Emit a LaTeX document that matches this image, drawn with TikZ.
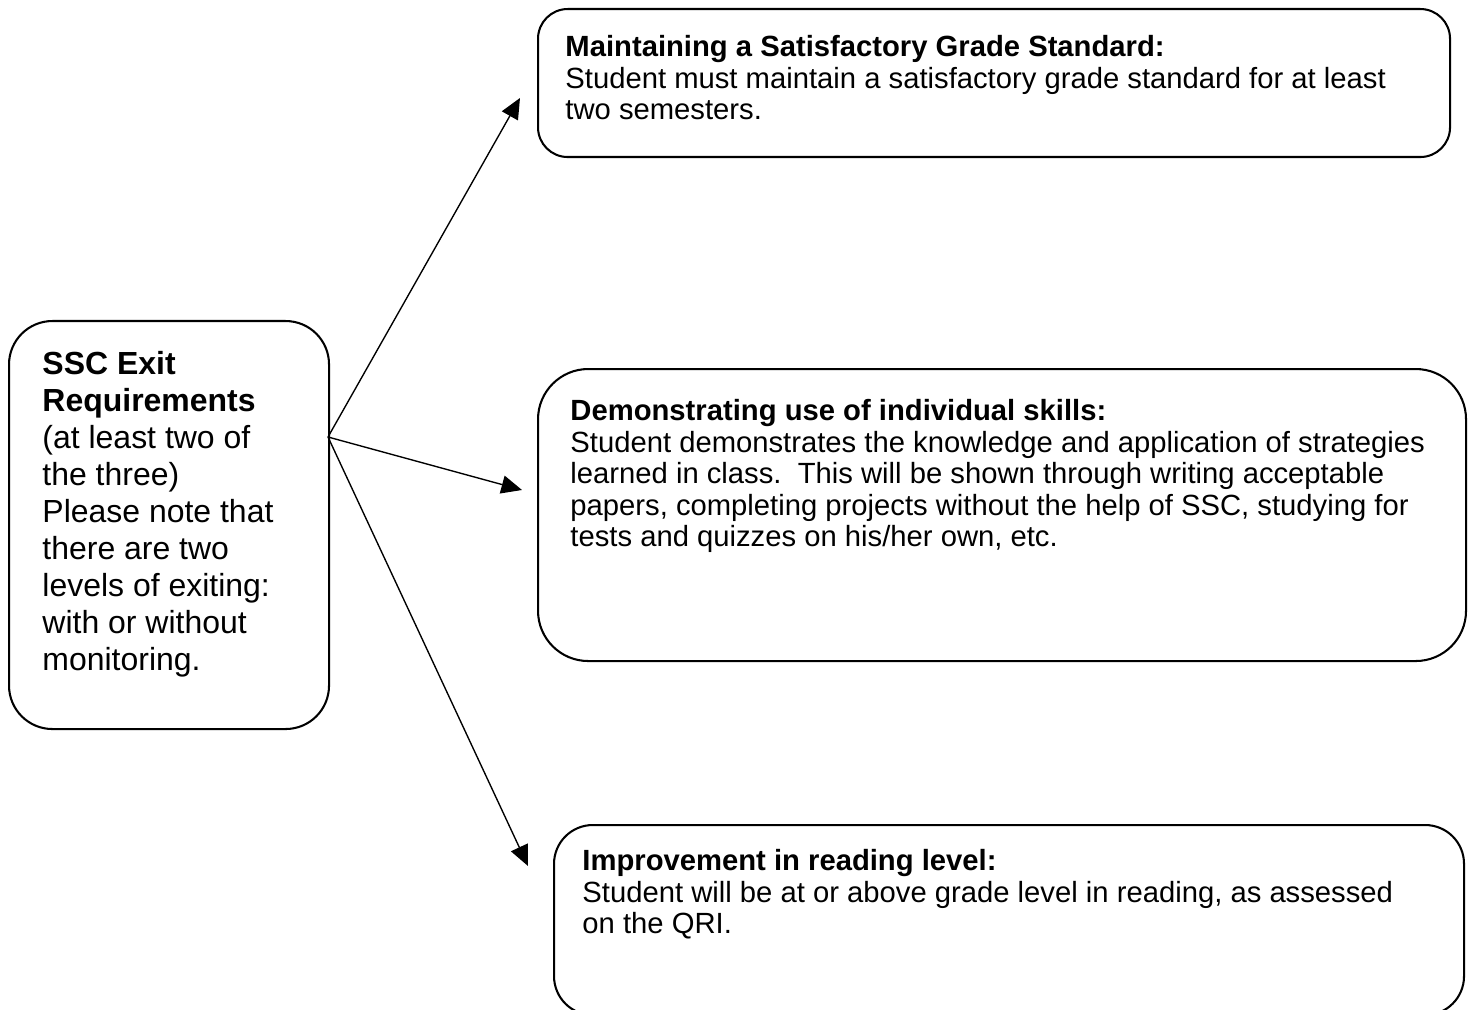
\documentclass[tikz,border=0pt]{standalone}
\usepackage{fontspec}
\setmainfont{Liberation Sans}
\usetikzlibrary{arrows.meta,positioning}

\tikzset{
  frame/.style={draw, line width=0.9pt, anchor=north west, inner sep=0pt},
  boxtext/.style={anchor=north west, inner sep=0pt, align=left, font=\fontsize{12.8}{13.8}\selectfont},
  bigtext/.style={anchor=north west, inner sep=0pt, align=left, font=\fontsize{14}{16.2}\selectfont},
  link/.style={line width=0.6pt, -{Triangle[length=9pt,width=8pt]}}
}

\begin{document}
\begin{tikzpicture}[x=0.438pt,y=-0.438pt]
   \useasboundingbox (0,0) rectangle (1471,1010);
   \node[frame, rounded corners=19pt, minimum width=320*0.438pt, minimum height=408*0.438pt] (sscFrame) at (8,320) {};
   \node[bigtext] (sscText) at (42,351) {\textbf{SSC Exit}\\\textbf{Requirements}\\(at least two of\\the three)\\Please note that\\there are two\\levels of exiting:\\with or without\\monitoring.};
   \node[frame, rounded corners=13pt, minimum width=912*0.438pt, minimum height=148*0.438pt] (gradeFrame) at (537,8) {};
   \node[boxtext] (gradeText) at (565,35) {\textbf{Maintaining a Satisfactory Grade Standard:}\\Student must maintain a satisfactory grade standard for at least\\two semesters.};
   \node[frame, rounded corners=22pt, minimum width=928*0.438pt, minimum height=292*0.438pt] (skillFrame) at (537,368) {};
   \node[boxtext] (skillText) at (570,399) {\textbf{Demonstrating use of individual skills:}\\Student demonstrates the knowledge and application of strategies\\learned in class.\ \ This will be shown through writing acceptable\\papers, completing projects without the help of SSC, studying for\\tests and quizzes on his/her own, etc.};
   \node[frame, rounded corners=17pt, minimum width=910*0.438pt, minimum height=190*0.438pt] (readFrame) at (553,824) {};
   \node[boxtext] (readText) at (582,849) {\textbf{Improvement in reading level:}\\Student will be at or above grade level in reading, as assessed\\on the QRI.};
   \coordinate (start) at (328,437);
   \coordinate (gradeTip) at (520,98);
   \coordinate (skillTip) at (522,490);
   \coordinate (readTip) at (528,866);
   \draw[link] (start) -- (gradeTip);
   \draw[link] (start) -- (skillTip);
   \draw[link] (start) -- (readTip);
\end{tikzpicture}
\end{document}
